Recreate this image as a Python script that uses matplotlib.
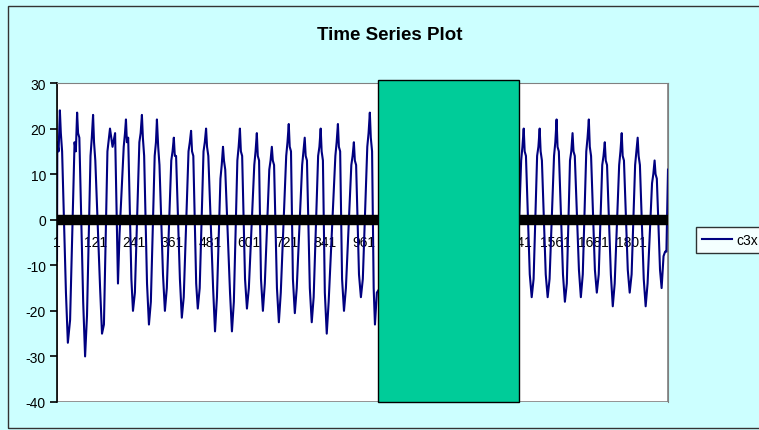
import matplotlib.pyplot as plt
from matplotlib.patches import Rectangle

plt.rcParams['font.family'] = ['Liberation Sans', 'DejaVu Sans']
plt.rcParams['axes.unicode_minus'] = False

# c3x series, key points (index, value)
t_left = [1, 2, 6, 10, 13, 17, 29, 35, 42,
          56, 60, 64, 67, 71, 83, 89, 95,
          106, 110, 114, 117, 121, 136, 142, 148,
          159, 167, 175, 183, 192, 197,
          210, 214, 217, 220, 224, 234, 239, 245,
          259, 263, 267, 270, 274, 283, 289, 295,
          307, 311, 314, 318, 322, 333, 339, 345,
          359, 363, 367, 370, 374, 386, 392, 398,
          413, 417, 421, 424, 428, 437, 442, 448,
          460, 464, 468, 471, 475, 490, 496, 502,
          513, 517, 521, 524, 528, 543, 549, 555,
          566, 570, 574, 577, 581, 590, 596, 602,
          619, 623, 627, 630, 634, 640, 646, 652,
          666, 670, 674, 677, 681, 690, 696, 702,
          719, 723, 727, 730, 734, 740, 746, 752,
          769, 773, 777, 780, 784, 793, 799, 805,
          819, 823, 827, 830, 834, 840, 846, 852,
          873, 877, 881, 884, 888, 894, 900, 906,
          923, 927, 931, 934, 938, 947, 953, 959,
          973, 977, 981, 984, 988, 993, 997, 1003]
c3x_left = [-9, 17, 15, 24, 19, 15, -16, -27, -22,
            17, 15, 23.5, 19, 18, -18, -30, -21,
            14, 18, 23, 17, 13, -15, -25, -23,
            15, 20, 16, 19, -14, -3,
            16, 19, 22, 17, 18, -13, -20, -16,
            17, 19, 23, 18, 14, -14, -23, -18,
            14, 17, 22, 16, 12, -12, -20, -15,
            13, 15, 18, 14, 14, -13, -21.5, -17,
            15, 17, 19.5, 15, 14, -14, -19.5, -15,
            15, 17, 20, 16, 14, -15, -24.5, -17,
            9, 12, 16, 13, 11, -16, -24.5, -18,
            13, 16, 20, 15, 14, -13, -19.5, -15,
            12, 15, 19, 14, 13, -13, -20, -14,
            11, 13, 16, 13, 12, -15, -22.5, -16,
            14, 17, 21, 16, 15, -13, -20.5, -15,
            12, 15, 18, 14, 13, -15, -22.5, -17,
            14, 16, 20, 15, 13, -16, -25, -18,
            14, 17, 21, 16, 15, -13, -20, -15,
            12, 14, 17, 13, 12, -12, -17, -13,
            16, 19, 23.5, 18, 15, -15, -23, -16]

# behind the box
t_hidden = [1012, 1030, 1440]
c3x_hidden = [-15, 15, -18]

t_right = [1455, 1459, 1463, 1466, 1470, 1482, 1488, 1494,
           1505, 1509, 1513, 1516, 1520, 1532, 1538, 1544,
           1558, 1562, 1566, 1569, 1573, 1586, 1592, 1598,
           1608, 1612, 1616, 1619, 1623, 1636, 1642, 1648,
           1659, 1663, 1667, 1670, 1674, 1686, 1692, 1698,
           1709, 1713, 1717, 1720, 1724, 1736, 1742, 1748,
           1762, 1766, 1770, 1773, 1777, 1789, 1795, 1801,
           1812, 1816, 1820, 1823, 1827, 1839, 1845, 1851,
           1865, 1869, 1873, 1876, 1880, 1890, 1895, 1901,
           1906, 1910, 1915]
c3x_right = [13, 16, 20, 15, 14, -12, -17, -13,
             14, 16, 20, 15, 13, -12, -17, -13,
             14, 17, 22, 16, 15, -12, -18, -14,
             13, 15, 19, 15, 14, -11, -17, -12,
             15, 18, 22, 16, 14, -11, -16, -12,
             12, 14, 17, 13, 12, -12, -19, -14,
             12, 15, 19, 14, 13, -11, -16, -12,
             12, 15, 18, 14, 12, -13, -19, -14,
             8, 10, 13, 10, 9, -11, -15, -8,
             -7, -7, 11]

n_points = 1915
tick_pos = [1, 121, 241, 361, 481, 601, 721, 841, 961, 1081, 1201, 1321, 1441, 1561, 1681, 1801]
y_ticks = [-40, -30, -20, -10, 0, 10, 20, 30]

# box covering part of the chart
box_x0, box_x1 = 1006, 1448
box_y0, box_y1 = -40, 30.7

t = t_left + t_hidden + t_right
c3x = c3x_left + c3x_hidden + c3x_right

fig = plt.figure(figsize=(7.59, 4.31), dpi=100)
fig.patch.set_facecolor('#CCFFFF')
fig.patches.append(Rectangle((8 / 759, 2 / 431), 1.2, 422 / 431, transform=fig.transFigure,
                             fill=False, edgecolor='#333333', lw=1.0))

ax = fig.add_axes([57 / 759, 28 / 431, 611 / 759, 319 / 431])
ax.set_facecolor('white')
ax.plot(t, c3x, color='#000080', lw=1.5, label='c3x', zorder=2)
ax.axhline(0, color='black', lw=7.5, zorder=3)

ax.set_xlim(1, n_points)
ax.set_ylim(-40, 30)
ax.set_yticks(y_ticks)
ax.set_xticks(tick_pos)
ax.set_xticklabels([str(p) for p in tick_pos])
ax.set_axisbelow(True)

for s in ['top', 'right']:
    ax.spines[s].set_color('#808080')
ax.spines['left'].set_color('black')
ax.spines['left'].set_linewidth(1.2)
ax.spines['bottom'].set_position(('data', 0))
ax.spines['bottom'].set_visible(False)
ax.add_patch(Rectangle((0, 0), 1, 1, transform=ax.transAxes, fill=False,
                       edgecolor='#808080', lw=1.2, zorder=1))
ax.tick_params(axis='y', direction='out', length=5, width=1.2, labelsize=10, colors='black', pad=3)
ax.tick_params(axis='x', length=0, labelsize=10, pad=11)

ax.add_patch(Rectangle((box_x0, box_y0), box_x1 - box_x0, box_y1 - box_y0,
                       facecolor='#00CC99', edgecolor='black', lw=1.0, zorder=5, clip_on=False))

fig.text(390 / 759, 1 - 35 / 431, 'Time Series Plot', ha='center', va='center',
         fontsize=13.5, fontweight='bold')

leg = fig.legend(loc='center left', bbox_to_anchor=(696 / 759, 1 - 241 / 431),
                 frameon=True, fancybox=False, edgecolor='black', fontsize=10,
                 handlelength=2.2, borderpad=0.4, handletextpad=0.3, borderaxespad=0)
leg.get_frame().set_linewidth(1.0)

fig.savefig('out.png', dpi=100, facecolor=fig.get_facecolor())
